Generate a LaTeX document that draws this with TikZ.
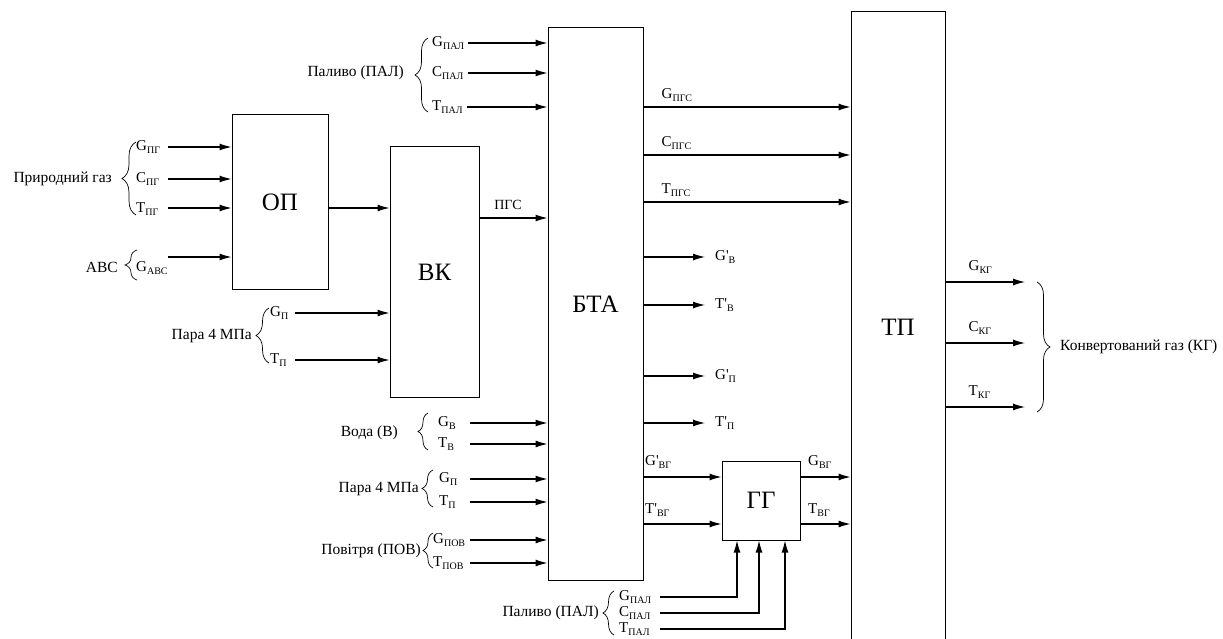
\documentclass[tikz,border=0pt]{standalone}
\usepackage{fontspec}
\setmainfont{Liberation Serif}
\usetikzlibrary{arrows.meta,decorations.pathreplacing}
\newcommand\sbs[1]{\raisebox{-0.4ex}{\fontsize{10}{10}\selectfont #1}}
\newcommand\prm{\textquotesingle}
\begin{document}
\begin{tikzpicture}[x=1pt,y=-1pt,
  blk/.style={draw,line width=1pt,inner sep=0pt,font=\fontsize{25}{25}\selectfont},
  lab/.style={inner sep=1pt,font=\fontsize{15}{15}\selectfont},
  grp/.style={inner sep=0pt,font=\fontsize{15.5}{15.5}\selectfont,anchor=east},
  arr/.style={line width=1.1pt,-{Latex[length=12pt,width=7pt]}},
  ln/.style={line width=1.1pt},
  lbrace/.style={decorate,decoration={brace,amplitude=#1},line width=0.7pt},
  lbrace/.default=8pt]
\useasboundingbox (0,0) rectangle (1223,639);

% blocks
\node[blk,minimum width=96pt,minimum height=174pt] (op) at (280,202) {ОП};
\node[blk,minimum width=89pt,minimum height=250pt] (vk) at (434.5,272) {ВК};
\node[blk,minimum width=95pt,minimum height=552pt] (bta) at (595.5,304) {БТА};
\node[blk,minimum width=94pt,minimum height=630pt] (tp) at (898,327) {ТП};
\node[blk,minimum width=78pt,minimum height=79pt] (gg) at (761,500.5) {ГГ};

% top fuel
\node[lab,anchor=west] (gpal1) at (431,43) {G\sbs{ПАЛ}};
\node[lab,anchor=west] (cpal1) at (431,73) {C\sbs{ПАЛ}};
\node[lab,anchor=west] (tpal1) at (431,107) {T\sbs{ПАЛ}};
\draw[lbrace=13pt] (428,112) -- (428,38);
\node[grp] (pal1) at (404,73) {Паливо (ПАЛ)};
\draw[arr] (gpal1.east) ++(3,0) coordinate (a1) -- (a1 -| bta.west);
\draw[arr] (cpal1.east) ++(3,0) coordinate (a2) -- (a2 -| bta.west);
\draw[arr] (tpal1.east) ++(3,0) coordinate (a3) -- (a3 -| bta.west);

% natural gas
\node[lab,anchor=west] (gpg) at (135,147) {G\sbs{ПГ}};
\node[lab,anchor=west] (cpg) at (135,179) {C\sbs{ПГ}};
\node[lab,anchor=west] (tpg) at (135,209) {T\sbs{ПГ}};
\draw[lbrace=14pt] (136,215) -- (136,142);
\node[grp] (pg) at (112,179) {Природний газ};
\coordinate (pg1) at (168,147);
\coordinate (pg2) at (168,179);
\coordinate (pg3) at (168,208);
\draw[arr] (pg1) -- (pg1 -| op.west);
\draw[arr] (pg2) -- (pg2 -| op.west);
\draw[arr] (pg3) -- (pg3 -| op.west);

% ABC
\node[lab,anchor=west] (gabc) at (135,268) {G\sbs{АВС}};
\draw[lbrace=12pt] (137,280) -- (137,250);
\node[grp] (abc) at (118,267) {АВС};
\coordinate (abcin) at (168,257);
\draw[arr] (abcin) -- (abcin -| op.west);

% OP -> VK
\draw[arr] (op.east |- 0,208) coordinate (o1) -- (o1 -| vk.west);

% steam upper
\node[lab,anchor=west] (gp1) at (269,313) {G\sbs{П}};
\node[lab,anchor=west] (tp1) at (269,360) {T\sbs{П}};
\draw[lbrace=13pt] (269,363) -- (269,308);
\node[grp] (par1) at (252,336) {Пара 4 МПа};
\coordinate (s1) at (295,313);
\coordinate (s2) at (295,360);
\draw[arr] (s1) -- (s1 -| vk.west);
\draw[arr] (s2) -- (s2 -| vk.west);

% VK -> BTA
\coordinate (v1) at (vk.east |- 0,218);
\draw[arr] (v1) -- (v1 -| bta.west);
\node[lab,font=\fontsize{14}{14}\selectfont] (pgs) at (508,205) {ПГС};

% water
\node[lab,anchor=west] (gv) at (437,423) {G\sbs{В}};
\node[lab,anchor=west] (tv) at (437,444) {T\sbs{В}};
\draw[lbrace=10pt] (428,450) -- (428,413);
\node[grp] (voda) at (398,433) {Вода (В)};
\coordinate (w1) at (470,423);
\coordinate (w2) at (470,444);
\draw[arr] (w1) -- (w1 -| bta.west);
\draw[arr] (w2) -- (w2 -| bta.west);

% steam lower
\node[lab,anchor=west] (gp2) at (438,479) {G\sbs{П}};
\node[lab,anchor=west] (tp2) at (438,502) {T\sbs{П}};
\draw[lbrace=11pt] (433,507) -- (433,470);
\node[grp] (par2) at (419,489) {Пара 4 МПа};
\coordinate (s3) at (470,479);
\coordinate (s4) at (470,502);
\draw[arr] (s3) -- (s3 -| bta.west);
\draw[arr] (s4) -- (s4 -| bta.west);

% air
\node[lab,anchor=west] (gpov) at (432,540) {G\sbs{ПОВ}};
\node[lab,anchor=west] (tpov) at (432,563) {T\sbs{ПОВ}};
\draw[lbrace=10pt] (433,568) -- (433,533);
\node[grp] (pov) at (421,551) {Повітря (ПОВ)};
\coordinate (p1) at (470,540);
\coordinate (p2) at (470,563);
\draw[arr] (p1) -- (p1 -| bta.west);
\draw[arr] (p2) -- (p2 -| bta.west);

% BTA -> TP
\foreach \yy/\nm/\tx in {107/gpgs/G, 155/cpgs/C, 202/tpgs/T}{
  \coordinate (\nm) at (bta.east |- 0,\yy);
  \draw[arr] (\nm) -- (\nm -| tp.west);
  \node[lab,anchor=west] at ([xshift=17pt,yshift=12pt]\nm) {\tx\sbs{ПГС}};
}

% BTA outputs
\foreach \yy/\nm/\tx/\sb in {257/o1/G/В, 305/o2/T/В, 376/o3/G/П, 423/o4/T/П}{
  \coordinate (\nm) at (bta.east |- 0,\yy);
  \coordinate (\nm e) at (705,\yy);
  \draw[arr] (\nm) -- (\nm e);
  \node[lab,anchor=west] at ([xshift=9pt]\nm e) {\tx\prm\sbs{\sb}};
}

% BTA -> GG
\coordinate (bg1) at (bta.east |- 0,477);
\coordinate (bg2) at (bta.east |- 0,524);
\draw[arr] (bg1) -- (bg1 -| gg.west);
\draw[arr] (bg2) -- (bg2 -| gg.west);
\node[lab,anchor=west] at (644,462) {G\prm\sbs{ВГ}};
\node[lab,anchor=west] at (644,510) {T\prm\sbs{ВГ}};

% GG -> TP
\coordinate (gt1) at (gg.east |- 0,477);
\coordinate (gt2) at (gg.east |- 0,524);
\draw[arr] (gt1) -- (gt1 -| tp.west);
\draw[arr] (gt2) -- (gt2 -| tp.west);
\node[lab,anchor=west] at (807,462) {G\sbs{ВГ}};
\node[lab,anchor=west] at (807,510) {T\sbs{ВГ}};

% bottom fuel
\node[lab,anchor=west] (gpal2) at (618,597) {G\sbs{ПАЛ}};
\node[lab,anchor=west] (cpal2) at (618,613) {C\sbs{ПАЛ}};
\node[lab,anchor=west] (tpal2) at (618,629) {T\sbs{ПАЛ}};
\draw[lbrace=11pt] (614,635) -- (614,591);
\node[grp] (pal2) at (599,613) {Паливо (ПАЛ)};
\coordinate (f1) at (660,597);
\coordinate (f2) at (660,613);
\coordinate (f3) at (660,629);
\draw[arr] (f1) -| (gg.south -| 737,0);
\draw[arr] (f2) -| (gg.south -| 759,0);
\draw[arr] (f3) -| (gg.south -| 785,0);

% TP outputs
\foreach \yy/\nm/\tx in {282/k1/G, 343/k2/C, 407/k3/T}{
  \coordinate (\nm) at (tp.east |- 0,\yy);
  \draw[arr] (\nm) -- (1025,\yy);
  \node[lab,anchor=west] at ([xshift=22pt,yshift=15pt]\nm) {\tx\sbs{КГ}};
}
\draw[lbrace=13pt] (1037,282) -- (1037,412);
\node[grp,anchor=west] (kg) at (1060,347) {Конвертований газ (КГ)};
\end{tikzpicture}
\end{document}
